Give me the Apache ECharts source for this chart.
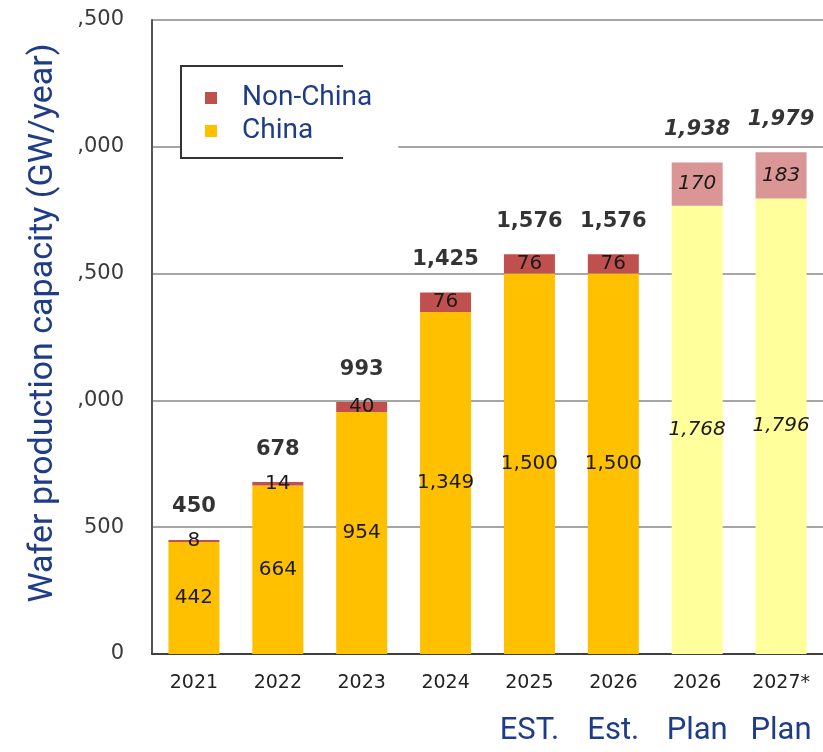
<!DOCTYPE html>
<html>
<head>
<meta charset="utf-8">
<script src="https://cdn.jsdelivr.net/npm/echarts@6/dist/echarts.min.js"></script>
<style>
  html, body { margin: 0; padding: 0; background: #fff; }
  #chart { width: 823px; height: 752px; }
</style>
</head>
<body>
<div id="chart"></div>
<script>
// Wafer production capacity by year, China vs. non-China (GW/year)
const years = ['2021', '2022', '2023', '2024', '2025', '2026', '2026', '2027*'];
const phase = ['', '', '', '', 'EST.', 'Est.', 'Plan', 'Plan'];
const china = [442, 664, 954, 1349, 1500, 1500, 1768, 1796];
const nonChina = [8, 14, 40, 76, 76, 76, 170, 183];
const totals = [450, 678, 993, 1425, 1576, 1576, 1938, 1979];
const yMax = 2500;
const yStep = 500;
const yTitle = 'Wafer production capacity (GW/year)';

const BLUE = '#1F3C88';
const NUM_FONT = 'DejaVu Sans';
const isPlan = i => phase[i] === 'Plan';
const fmt = v => Number(v).toLocaleString('en-US');

const chart = echarts.init(document.getElementById('chart'), null, { renderer: 'canvas' });

const segLabel = {
  show: true,
  position: 'inside',
  color: '#1a1a1a',
  fontFamily: NUM_FONT,
  fontSize: 20,
  formatter: p => fmt(p.value)
};

const option = {
  animation: false,
  backgroundColor: '#fff',
  grid: { left: 152, right: 0, top: 20, bottom: 98, containLabel: false, outerBoundsMode: 'none' },
  legend: {
    orient: 'vertical',
    left: 181,
    top: 66,
    padding: [18, 26, 9, 24],
    itemGap: 5,
    itemWidth: 12,
    itemHeight: 12,
    icon: 'rect',
    backgroundColor: '#fff',
    data: ['Non-China', 'China'],
    textStyle: {
      fontFamily: 'Roboto',
      fontSize: 28,
      color: BLUE,
      padding: [0, 0, 0, 20]
    }
  },
  graphic: [
    {
      // legend frame, open on the right side
      type: 'polyline',
      z: 100,
      shape: { points: [[343, 66], [181, 66], [181, 158], [343, 158]] },
      style: { stroke: '#333', lineWidth: 2, fill: null }
    },
    {
      // vertical axis title on a white panel
      type: 'text',
      z: 100,
      x: 43,
      y: 323,
      rotation: Math.PI / 2,
      style: {
        text: yTitle,
        fontFamily: 'Roboto',
        fontSize: 34,
        fill: BLUE,
        align: 'center',
        verticalAlign: 'middle',
        backgroundColor: '#fff',
        padding: [4, 38, 30, 38]
      }
    }
  ],
  xAxis: {
    type: 'category',
    data: years,
    axisLine: { show: true, lineStyle: { color: '#404040', width: 2 } },
    axisTick: { show: false },
    axisLabel: {
      margin: 17,
      interval: 0,
      formatter: (v, i) => phase[i] ? `{y|${v}}\n{p|${phase[i]}}` : `{y|${v}}`,
      rich: {
        y: { fontFamily: NUM_FONT, fontSize: 19, color: '#222', lineHeight: 24 },
        p: { fontFamily: 'Roboto', fontSize: 31, color: BLUE, lineHeight: 72 }
      }
    }
  },
  yAxis: {
    type: 'value',
    min: 0,
    max: yMax,
    interval: yStep,
    axisLine: { show: true, lineStyle: { color: '#555', width: 2 } },
    axisTick: { show: false },
    axisLabel: {
      margin: 28,
      fontFamily: NUM_FONT,
      fontSize: 21,
      color: '#3a3a3a',
      formatter: v => fmt(v)
    },
    splitLine: { show: true, lineStyle: { color: '#A6A6A6', width: 2 } }
  },
  series: [
    {
      name: 'China',
      type: 'bar',
      stack: 'capacity',
      barWidth: 51,
      itemStyle: { color: '#FFC000' },
      label: segLabel,
      data: china.map((v, i) => ({
        value: v,
        itemStyle: { color: isPlan(i) ? '#FFFF9C' : '#FFC000' },
        label: { fontStyle: isPlan(i) ? 'italic' : 'normal' }
      }))
    },
    {
      name: 'Non-China',
      type: 'bar',
      stack: 'capacity',
      barWidth: 51,
      itemStyle: { color: '#C0504D' },
      label: segLabel,
      data: nonChina.map((v, i) => ({
        value: v,
        itemStyle: { color: isPlan(i) ? '#DA9694' : '#C0504D' },
        label: { fontStyle: isPlan(i) ? 'italic' : 'normal' }
      }))
    },
    {
      name: 'Total',
      type: 'scatter',
      symbolSize: 1,
      itemStyle: { color: 'rgba(0,0,0,0)' },
      z: 5,
      label: {
        show: true,
        position: 'top',
        distance: 22,
        fontFamily: NUM_FONT,
        fontWeight: 'bold',
        fontSize: 21,
        color: '#000',
        formatter: p => fmt(p.value)
      },
      data: totals.map((v, i) => ({
        value: v,
        label: { fontStyle: isPlan(i) ? 'italic' : 'normal' }
      }))
    }
  ]
};

chart.setOption(option);
</script>
</body>
</html>
